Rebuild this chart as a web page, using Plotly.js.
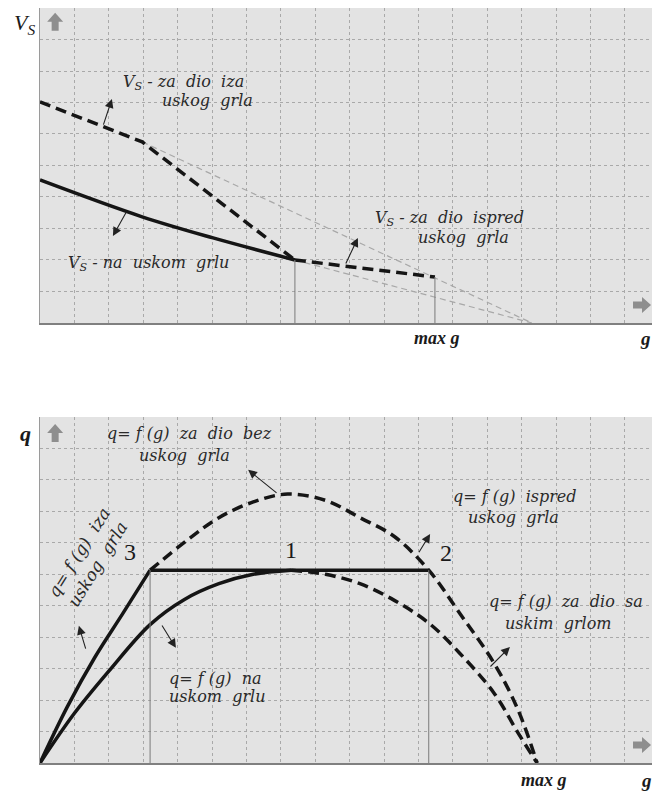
<!DOCTYPE html>
<html>
<head>
<meta charset="utf-8">
<script src="https://cdn.plot.ly/plotly-3.0.1.min.js"></script>
<style>
  html, body { margin: 0; padding: 0; background: #fff; }
  #chart { width: 654px; height: 791px; }
</style>
</head>
<body>
<div id="chart"></div>
<script>
// ---- top panel: V_s over g ----
const vsNaX = [0, 2.97, 5.03, 7.41];          // V_s na uskom grlu (solid)
const vsNaY = [4.54, 3.37, 2.70, 2.0];
const vsIzaX = [0, 2.97, 7.41];               // V_s za dio iza uskog grla (dashed)
const vsIzaY = [7.02, 5.75, 2.0];
const vsIspredX = [7.41, 11.48];              // V_s za dio ispred uskog grla (dashed)
const vsIspredY = [2.0, 1.46];
const vsGuide1X = [2.97, 14.3];               // thin grey continuations
const vsGuide1Y = [5.75, 0];
const vsGuide2X = [7.41, 14.3];
const vsGuide2Y = [2.0, 0];
const vsDropX = [7.41, 11.48];                // thin verticals down to the axis
const vsDropY = [2.0, 1.46];

// ---- bottom panel: q = f(g) ----
const qIzaX = [0, 0.8, 1.6, 2.4, 3.2];        // iza uskog grla (solid, up to point 3)
const qIzaY = [0, 1.8, 3.37, 4.74, 6.13];
const qBezX = [3.2, 4.3, 5.2, 6.2, 7.2, 8.3, 9.3, 10.3, 11.3, 12.2, 13.2, 13.9, 14.45];
const qBezY = [6.13, 7.1, 7.8, 8.3, 8.55, 8.35, 7.8, 7.2, 6.13, 4.76, 3.17, 1.68, 0];
const qFlatX = [3.2, 11.3];                   // 3 -> 1 -> 2
const qFlatY = [6.13, 6.13];
const qNaX = [0, 1, 2, 3.2, 4.2, 5.2, 6.2, 7.3];
const qNaY = [0, 1.58, 2.92, 4.4, 5.2, 5.7, 6.0, 6.13];
const qSaX = [7.3, 8.3, 9.3, 10.3, 11.3, 12.2, 13.2, 13.9, 14.45];
const qSaY = [6.13, 6.0, 5.7, 5.17, 4.45, 3.49, 2.22, 0.95, 0];
const qDropX = [3.2, 11.3];
const qDropY = [6.13, 6.13];

const X_MAX = 17.79;
const INK = "#151515";
const SERIF = "DejaVu Serif, Liberation Serif, serif";
const TIMES = "Liberation Serif, serif";

function line(x, y, xa, ya, opts) {
  return Object.assign({
    x: x, y: y, xaxis: xa, yaxis: ya, mode: "lines", hoverinfo: "skip",
    line: { color: INK, width: 3.5 }
  }, opts || {});
}
const thick = (shape) => ({ color: INK, width: 3.5, shape: shape || "linear", smoothing: 1 });
const dashed = (shape) => ({ color: INK, width: 3.5, dash: "11px,6px", shape: shape || "linear", smoothing: 1 });
const guide = { color: "#a8a8a8", width: 1.2, dash: "6px,4px" };
const drop = { color: "#7a7a7a", width: 1 };

const traces = [
  line(vsGuide1X, vsGuide1Y, "x", "y", { line: guide }),
  line(vsGuide2X, vsGuide2Y, "x", "y", { line: guide }),
  line(vsIzaX, vsIzaY, "x", "y", { line: dashed() }),
  line(vsNaX, vsNaY, "x", "y", { line: thick("spline") }),
  line(vsIspredX, vsIspredY, "x", "y", { line: dashed() }),

  line(qBezX, qBezY, "x2", "y2", { line: dashed("spline") }),
  line(qSaX, qSaY, "x2", "y2", { line: dashed("spline") }),
  line(qIzaX, qIzaY, "x2", "y2", { line: thick("spline") }),
  line(qNaX, qNaY, "x2", "y2", { line: thick("spline") }),
  line(qFlatX, qFlatY, "x2", "y2", { line: thick() })
];

// vertical drop lines, built from the arrays above
vsDropX.forEach((gx, i) => traces.push(line([gx, gx], [0, vsDropY[i]], "x", "y", { line: drop })));
qDropX.forEach((gx, i) => traces.push(line([gx, gx], [0, qDropY[i]], "x2", "y2", { line: drop })));

function axisX(anchor) {
  return {
    range: [0, X_MAX], dtick: 1, tick0: 0, anchor: anchor,
    showgrid: true, gridcolor: "#a9a9a9", griddash: "dot", gridwidth: 1,
    zeroline: false, showticklabels: false, ticks: "",
    showline: true, linecolor: "#808080", linewidth: 2
  };
}
function axisY(range, domain, anchor) {
  return {
    range: range, dtick: 1, tick0: 0, domain: domain, anchor: anchor,
    showgrid: true, gridcolor: "#a9a9a9", griddash: "dot", gridwidth: 1,
    zeroline: false, showticklabels: false, ticks: "",
    showline: true, linecolor: "#9a9a9a", linewidth: 1.5
  };
}

const txt = (xr, yr, x, y, text, extra) => Object.assign({
  xref: xr, yref: yr, x: x, y: y, text: text, showarrow: false, xanchor: "center",
  font: { family: SERIF, size: 16, color: "#2a2a2a" }
}, extra || {});
const big = (size, more) => Object.assign({ font: { family: TIMES, size: size, color: "#1a1a1a" } }, more || {});
const pointer = (xr, yr, hx, hy, tx, ty) => ({
  xref: xr, yref: yr, axref: xr, ayref: yr, x: hx, y: hy, ax: tx, ay: ty,
  text: "", showarrow: true, arrowhead: 2, arrowsize: 1.6, arrowwidth: 1.1, arrowcolor: "#222"
});
const S = "\u00a0";
const it = (s) => "<i>" + s + "</i>";
const VS = "<i>V<sub>S</sub></i>";
const sp = (words) => words.join(S + S);

const annotations = [
  // top panel
  txt("paper", "paper", -0.0049, 1.0, VS, big(22, { xanchor: "right", yanchor: "top" })),
  txt("x", "y", 2.35, 7.62, VS + it(" -" + S + sp(["za", "dio", "iza"])), { xanchor: "left" }),
  txt("x", "y", 3.49, 7.05, it(sp(["uskog", "grla"])), { xanchor: "left" }),
  pointer("x", "y", 2.09, 7.11, 1.83, 6.25),
  txt("x", "y", 0.76, 1.90, VS + it(" -" + S + sp(["na", "uskom", "grlu"])), { xanchor: "left" }),
  pointer("x", "y", 2.12, 2.76, 2.53, 3.56),
  txt("x", "y", 9.68, 3.33, VS + it(" -" + S + sp(["za", "dio", "ispred"])), { xanchor: "left" }),
  txt("x", "y", 10.93, 2.70, it(sp(["uskog", "grla"])), { xanchor: "left" }),
  pointer("x", "y", 9.24, 2.70, 8.87, 1.84),
  txt("paper", "paper", 0.6487, 0.5629, "<b><i>max g</i></b>", big(18)),
  txt("paper", "paper", 0.9886, 0.5629, "<b><i>g</i></b>", big(19)),

  // bottom panel
  txt("paper", "paper", -0.0245, 0.437, "<b><i>q</i></b>", big(22)),
  txt("x2", "y2", 4.36, 10.49, it("q=" + S + "f" + S + "(g)" + S + S + sp(["za", "dio", "bez"]))),
  txt("x2", "y2", 4.19, 9.79, it(sp(["uskog", "grla"]))),
  pointer("x2", "y2", 6.05, 9.32, 6.92, 8.55),
  txt("x2", "y2", 1.40, 6.52, it("q=" + S + "f" + S + "(g)" + S + S + "iza") + "<br>" + it(sp(["uskog", "grla"])),
      { textangle: -58, font: { family: SERIF, size: 17, color: "#2a2a2a" } }),
  pointer("x2", "y2", 1.13, 4.36, 1.34, 3.59),
  txt("x2", "y2", 2.62, 6.70, "3", big(24)),
  txt("x2", "y2", 7.30, 6.78, "1", big(24)),
  txt("x2", "y2", 11.80, 6.68, "2", big(24)),
  txt("x2", "y2", 13.81, 8.46, it("q=" + S + "f" + S + "(g)" + S + S + "ispred")),
  txt("x2", "y2", 13.75, 7.79, it(sp(["uskog", "grla"]))),
  pointer("x2", "y2", 11.34, 7.28, 10.99, 6.65),
  txt("x2", "y2", 15.3, 5.12, it("q=" + S + "f" + S + "(g)" + S + S + sp(["za", "dio", "sa"]))),
  txt("x2", "y2", 15.06, 4.45, it(sp(["uskim", "grlom"]))),
  pointer("x2", "y2", 13.66, 3.69, 13.05, 3.02),
  txt("x2", "y2", 5.09, 2.70, it("q=" + S + "f" + S + "(g)" + S + S + "na")),
  txt("x2", "y2", 5.15, 2.13, it(sp(["uskom", "grlu"]))),
  pointer("x2", "y2", 3.95, 3.66, 3.52, 4.42),
  txt("paper", "paper", 0.8235, -0.0066, "<b><i>max g</i></b>", big(18, { yanchor: "top" })),
  txt("paper", "paper", 0.9918, -0.0066, "<b><i>g</i></b>", big(19, { yanchor: "top" }))
];

// grey block arrows at the axis ends (pixel-sized paths)
const UP = "M -3.5,-9 L 3.5,-9 L 3.5,0 L 8,0 L 0,9 L -8,0 L -3.5,0 Z";
const RIGHT = "M -9,-3.5 L 0,-3.5 L 0,-8 L 9,0 L 0,8 L 0,3.5 L -9,3.5 Z";
const blockArrow = (xr, yr, x, y, path) => ({
  type: "path", xref: xr, yref: yr, xsizemode: "pixel", ysizemode: "pixel",
  xanchor: x, yanchor: y, path: path, fillcolor: "#8e8e8e", line: { width: 0 }
});
const shapes = [
  blockArrow("x", "y", 0.44, 9.56, UP),
  blockArrow("x", "y", 17.5, 0.57, RIGHT),
  blockArrow("x2", "y2", 0.44, 10.49, UP),
  blockArrow("x2", "y2", 17.5, 0.57, RIGHT)
];

const layout = {
  width: 654, height: 791,
  margin: { l: 40, r: 2, t: 8, b: 28 },
  paper_bgcolor: "#ffffff",
  plot_bgcolor: "#e3e3e3",
  showlegend: false,
  xaxis: axisX("y"),
  yaxis: axisY([0, 10], [0.5828, 1.0], "x"),
  xaxis2: axisX("y2"),
  yaxis2: axisY([0, 11], [0, 0.4583], "x2"),
  annotations: annotations,
  shapes: shapes
};

Plotly.newPlot("chart", traces, layout, { displayModeBar: false, staticPlot: true });
</script>
</body>
</html>
